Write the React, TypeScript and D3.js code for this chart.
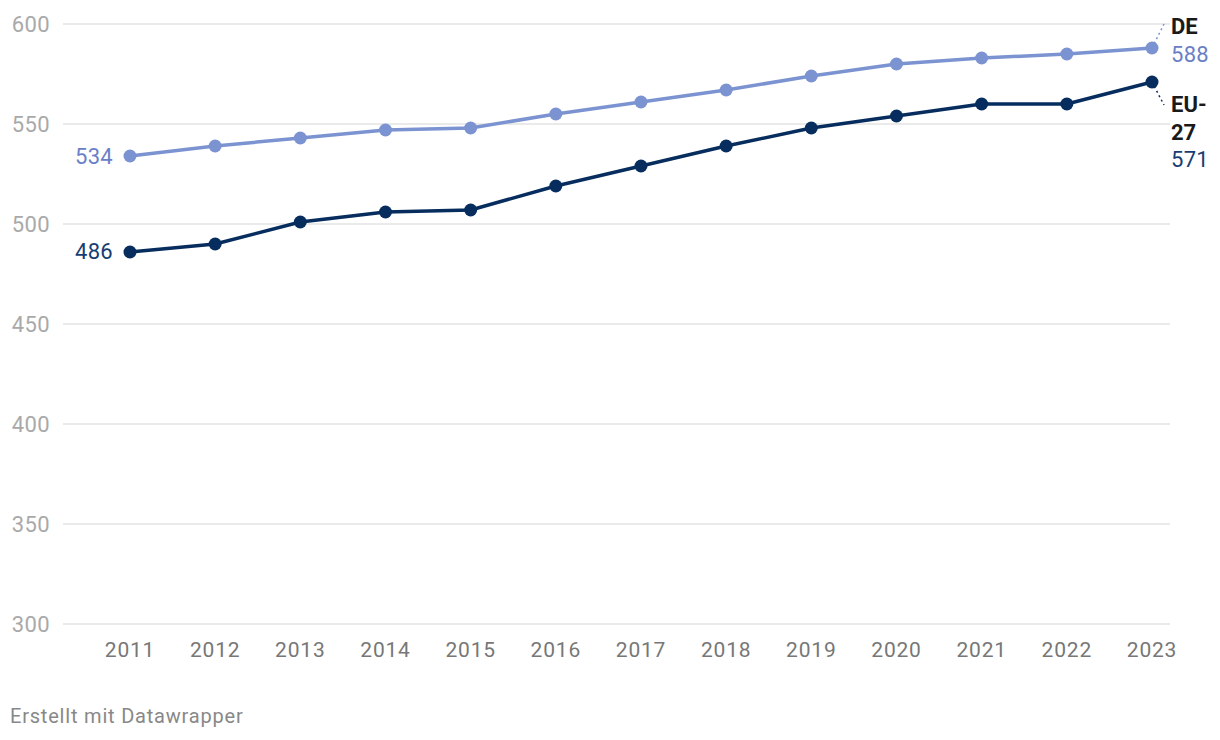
import React from "react";
import * as d3 from "d3";

const years = [2011, 2012, 2013, 2014, 2015, 2016, 2017, 2018, 2019, 2020, 2021, 2022, 2023];
const deValues = [534, 539, 543, 547, 548, 555, 561, 567, 574, 580, 583, 585, 588];
const euValues = [486, 490, 501, 506, 507, 519, 529, 539, 548, 554, 560, 560, 571];
const yTicks = [300, 350, 400, 450, 500, 550, 600];

const DE_COLOR = "#7b93d1";
const DE_TEXT = "#6a80c6";
const EU_COLOR = "#062d5e";
const EU_TEXT = "#163d73";

export default function App() {
  const W = 1220, H = 740;
  const x = d3.scaleLinear().domain([2011, 2023]).range([130, 1152]);
  const y = d3.scaleLinear().domain([300, 600]).range([624, 24]);
  const line = d3.line<number>().x((_, i) => x(years[i])).y((v) => y(v));
  const font = "Roboto, 'Noto Sans', sans-serif";
  const lastDe = deValues[deValues.length - 1];
  const lastEu = euValues[euValues.length - 1];
  const xl = x(years[years.length - 1]);
  return (
    <svg width={W} height={H} style={{ position: "absolute", left: 0, top: 0, fontFamily: font }}>
      <rect width={W} height={H} fill="#fff" />
      {yTicks.map((t) => (
        <g key={t}>
          <line x1={63} x2={1170} y1={y(t)} y2={y(t)} stroke="#e3e3e3" strokeWidth={1.5} />
          <text x={50} y={y(t)} dy="0.35em" textAnchor="end" fontSize={22} letterSpacing={0.4} fill="#a9a9a9">{t}</text>
        </g>
      ))}
      {years.map((yr) => (
        <text key={yr} x={x(yr)} y={657} textAnchor="middle" fontSize={21} letterSpacing={0.8} fill="#777">{yr}</text>
      ))}
      <path d={line(deValues) || ""} fill="none" stroke={DE_COLOR} strokeWidth={3.5} strokeLinejoin="round" />
      <path d={line(euValues) || ""} fill="none" stroke={EU_COLOR} strokeWidth={3.5} strokeLinejoin="round" />
      {deValues.map((v, i) => (
        <circle key={"d" + i} cx={x(years[i])} cy={y(v)} r={6.5} fill={DE_COLOR} />
      ))}
      {euValues.map((v, i) => (
        <circle key={"e" + i} cx={x(years[i])} cy={y(v)} r={6.5} fill={EU_COLOR} />
      ))}
      <text x={113} y={y(deValues[0]) + 0.5} dy="0.35em" textAnchor="end" fontSize={22} letterSpacing={0.3} fill={DE_TEXT}>{deValues[0]}</text>
      <text x={113} y={y(euValues[0]) - 1} dy="0.35em" textAnchor="end" fontSize={22} letterSpacing={0.3} fill={EU_TEXT}>{euValues[0]}</text>
      <line x1={xl} y1={y(lastDe)} x2={1164} y2={24} stroke={DE_COLOR} strokeWidth={1.5} strokeDasharray="2,3" />
      <line x1={xl} y1={y(lastEu)} x2={1164} y2={105} stroke={EU_COLOR} strokeWidth={1.5} strokeDasharray="2,3" />
      <text x={1171} y={26.5} dy="0.35em" fontSize={22} fontWeight="bold" fill="#1a1a1a">DE</text>
      <text x={1171} y={54} dy="0.35em" fontSize={22} letterSpacing={0.3} fill={DE_TEXT}>{lastDe}</text>
      <text x={1171} y={104.5} dy="0.35em" fontSize={22} fontWeight="bold" fill="#1a1a1a">EU-</text>
      <text x={1171} y={132} dy="0.35em" fontSize={22} fontWeight="bold" fill="#1a1a1a">27</text>
      <text x={1171} y={159} dy="0.35em" fontSize={22} letterSpacing={0.3} fill={EU_TEXT}>{lastEu}</text>
      <text x={10} y={723} fontSize={20} letterSpacing={0.8} fill="#888">Erstellt mit Datawrapper</text>
    </svg>
  );
}
